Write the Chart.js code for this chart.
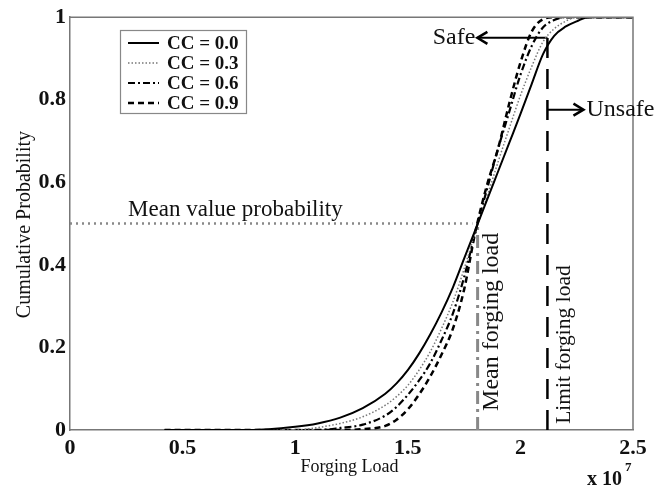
<!DOCTYPE html>
<html>
<head>
<meta charset="utf-8">
<script src="https://cdn.jsdelivr.net/npm/chart.js@4/dist/chart.umd.min.js"></script>
<style>
  html, body { margin: 0; padding: 0; background: #fff; }
  canvas { display: block; }
</style>
</head>
<body>
<canvas id="cdfChart" width="665" height="488"></canvas>
<script>
// forging load (x 10^7) sample points
const loads = [0.42, 0.8, 1.0, 1.1, 1.2, 1.3, 1.4, 1.45, 1.5, 1.55, 1.6, 1.65, 1.7, 1.75, 1.8, 1.85, 1.9, 1.95, 2.0, 2.05, 2.1, 2.15, 2.2, 2.25, 2.3, 2.4, 2.5];

// cumulative probability for each correlation coefficient
const cc00 = [0, 0, 0.008, 0.016, 0.03, 0.053, 0.088, 0.113, 0.145, 0.185, 0.232, 0.285, 0.345, 0.415, 0.485, 0.555, 0.625, 0.695, 0.765, 0.838, 0.91, 0.955, 0.977, 0.99, 1, 1, 1];
const cc03 = [0, 0, 0, 0.006, 0.016, 0.032, 0.06, 0.081, 0.108, 0.145, 0.19, 0.246, 0.31, 0.39, 0.48, 0.562, 0.648, 0.73, 0.81, 0.88, 0.94, 0.972, 0.99, 1, 1, 1, 1];
const cc06 = [0, 0, 0, 0, 0.005, 0.013, 0.035, 0.056, 0.085, 0.12, 0.162, 0.218, 0.282, 0.37, 0.48, 0.58, 0.68, 0.77, 0.86, 0.93, 0.975, 0.993, 1, 1, 1, 1, 1];
const cc09 = [0, 0, 0, 0, 0, 0.002, 0.01, 0.025, 0.05, 0.086, 0.13, 0.183, 0.245, 0.34, 0.48, 0.59, 0.68, 0.79, 0.89, 0.965, 0.995, 1, 1, 1, 1, 1, 1];
const seriesLabels = ['CC = 0.0', 'CC = 0.3', 'CC = 0.6', 'CC = 0.9'];

// reference levels
const meanLoad = 1.81;
const limitLoad = 2.12;
const meanProb = 0.5;
const safeLevel = 0.95;
const unsafeLevel = 0.776;
const limitTop = 0.975;
const safeTip = 1.809;
const unsafeTip = 2.28;

const xTicks = [0, 0.5, 1, 1.5, 2, 2.5];
const yTicks = [0, 0.2, 0.4, 0.6, 0.8, 1];

const SERIF = '"Liberation Serif", "DejaVu Serif", serif';

function pts(ys) {
    return loads.map((x, i) => ({ x: x, y: ys[i] }));
}

const curveStyle = {
    fill: false,
    pointRadius: 0,
    cubicInterpolationMode: 'monotone'
};

const notes = {
    id: 'notes',
    afterDatasetsDraw(chart) {
        const ctx = chart.ctx;
        const xs = chart.scales.x;
        const ys = chart.scales.y;
        const a = chart.chartArea;
        ctx.save();

        // top and right frame
        ctx.strokeStyle = '#777';
        ctx.lineWidth = 1.5;
        ctx.beginPath();
        ctx.moveTo(a.left, a.top);
        ctx.lineTo(a.right, a.top);
        ctx.lineTo(a.right, a.bottom);
        ctx.stroke();

        // arrow heads
        ctx.strokeStyle = '#000';
        ctx.lineWidth = 2.5;
        let tx = xs.getPixelForValue(safeTip), ty = ys.getPixelForValue(safeLevel);
        ctx.beginPath();
        ctx.moveTo(tx + 10, ty - 6);
        ctx.lineTo(tx, ty);
        ctx.lineTo(tx + 10, ty + 6);
        ctx.stroke();
        let ux = xs.getPixelForValue(unsafeTip), uy = ys.getPixelForValue(unsafeLevel);
        ctx.beginPath();
        ctx.moveTo(ux - 10, uy - 6);
        ctx.lineTo(ux, uy);
        ctx.lineTo(ux - 10, uy + 6);
        ctx.stroke();

        // annotation texts
        ctx.fillStyle = '#111';
        ctx.font = '24px ' + SERIF;
        ctx.textBaseline = 'middle';
        ctx.textAlign = 'right';
        ctx.fillText('Safe', tx - 2, ty);
        ctx.textAlign = 'left';
        ctx.fillText('Unsafe', ux + 3, uy);
        ctx.font = '23px ' + SERIF;
        ctx.fillText('Mean value probability', xs.getPixelForValue(0.258), ys.getPixelForValue(0.534));

        ctx.textAlign = 'center';
        ctx.font = '24px ' + SERIF;
        ctx.save();
        ctx.translate(xs.getPixelForValue(meanLoad) + 14, ys.getPixelForValue(0.262));
        ctx.rotate(-Math.PI / 2);
        ctx.fillText('Mean forging load', 0, 0);
        ctx.restore();
        ctx.font = '21.5px ' + SERIF;
        ctx.save();
        ctx.translate(xs.getPixelForValue(limitLoad) + 17, ys.getPixelForValue(0.207));
        ctx.rotate(-Math.PI / 2);
        ctx.fillText('Limit forging load', 0, 0);
        ctx.restore();

        // axis titles
        ctx.font = '18px ' + SERIF;
        ctx.fillText('Forging Load', (a.left + a.right) / 2 - 2, 467);
        ctx.font = '20px ' + SERIF;
        ctx.save();
        ctx.translate(25, (a.top + a.bottom) / 2 + 1);
        ctx.rotate(-Math.PI / 2);
        ctx.fillText('Cumulative Probability', 0, 0);
        ctx.restore();

        // exponent
        ctx.textAlign = 'left';
        ctx.font = 'bold 20px ' + SERIF;
        ctx.fillText('x 10', 587, 480);
        ctx.font = 'bold 13px ' + SERIF;
        ctx.fillText('7', 625, 468);

        // legend
        ctx.strokeStyle = '#888';
        ctx.lineWidth = 1.2;
        ctx.strokeRect(120.5, 30.5, 126, 83);
        ctx.font = 'bold 19px ' + SERIF;
        for (let i = 0; i < 4; i++) {
            const ds = chart.data.datasets[i];
            const ry = 43 + i * 20;
            ctx.strokeStyle = ds.borderColor;
            ctx.lineWidth = ds.borderWidth;
            ctx.setLineDash(ds.borderDash || []);
            ctx.beginPath();
            ctx.moveTo(128, ry);
            ctx.lineTo(159, ry);
            ctx.stroke();
            ctx.setLineDash([]);
            ctx.fillStyle = '#111';
            ctx.fillText(ds.label, 167, ry + 1);
        }
        ctx.restore();
    }
};

const ctx = document.getElementById('cdfChart').getContext('2d');
const cdfChart = new Chart(ctx, {
    type: 'line',
    data: {
        datasets: [
            Object.assign({ label: seriesLabels[0], data: pts(cc00), borderColor: '#000', borderWidth: 2 }, curveStyle),
            Object.assign({ label: seriesLabels[1], data: pts(cc03), borderColor: '#777', borderWidth: 1.5, borderDash: [1.5, 2] }, curveStyle),
            Object.assign({ label: seriesLabels[2], data: pts(cc06), borderColor: '#000', borderWidth: 2.2, borderDash: [7, 3, 2, 3] }, curveStyle),
            Object.assign({ label: seriesLabels[3], data: pts(cc09), borderColor: '#000', borderWidth: 2.5, borderDash: [6, 4] }, curveStyle),
            {
                label: 'mean probability',
                data: [{ x: 0, y: meanProb }, { x: 1.787, y: meanProb }],
                borderColor: '#888', borderWidth: 2.5, borderDash: [2, 4], pointRadius: 0
            },
            {
                label: 'mean load',
                data: [{ x: meanLoad, y: 0 }, { x: meanLoad, y: meanProb }],
                borderColor: '#888', borderWidth: 3, borderDash: [13, 5, 3, 5], pointRadius: 0
            },
            {
                label: 'limit load',
                data: [{ x: limitLoad, y: 0 }, { x: limitLoad, y: limitTop }],
                borderColor: '#000', borderWidth: 2.5, borderDash: [20, 11], pointRadius: 0
            },
            {
                label: 'safe arrow',
                data: [{ x: safeTip, y: safeLevel }, { x: limitLoad, y: safeLevel }],
                borderColor: '#000', borderWidth: 2, pointRadius: 0
            },
            {
                label: 'unsafe arrow',
                data: [{ x: limitLoad, y: unsafeLevel }, { x: unsafeTip, y: unsafeLevel }],
                borderColor: '#000', borderWidth: 2, pointRadius: 0
            }
        ]
    },
    options: {
        responsive: false,
        animation: false,
        layout: { padding: { left: 0, right: 32, top: 14, bottom: 0 } },
        plugins: {
            legend: { display: false },
            tooltip: { enabled: false }
        },
        scales: {
            x: {
                type: 'linear',
                min: 0,
                max: 2.5,
                afterBuildTicks: (s) => { s.ticks = xTicks.map(v => ({ value: v })); },
                afterFit: (s) => { s.height = 58; },
                grid: { display: false, drawTicks: false },
                border: { color: '#777', width: 1.5 },
                ticks: {
                    color: '#111',
                    padding: 5,
                    maxRotation: 0,
                    font: { family: SERIF, size: 22, weight: 'bold' },
                    callback: (v) => String(v)
                }
            },
            y: {
                min: 0,
                max: 1,
                afterBuildTicks: (s) => { s.ticks = yTicks.map(v => ({ value: v })); },
                afterFit: (s) => { s.width = 70; },
                grid: { display: false, drawTicks: false },
                border: { color: '#777', width: 1.5 },
                ticks: {
                    color: '#111',
                    padding: 4,
                    font: { family: SERIF, size: 22, weight: 'bold' },
                    callback: (v) => String(Math.round(v * 10) / 10)
                }
            }
        }
    },
    plugins: [notes]
});
</script>
</body>
</html>
